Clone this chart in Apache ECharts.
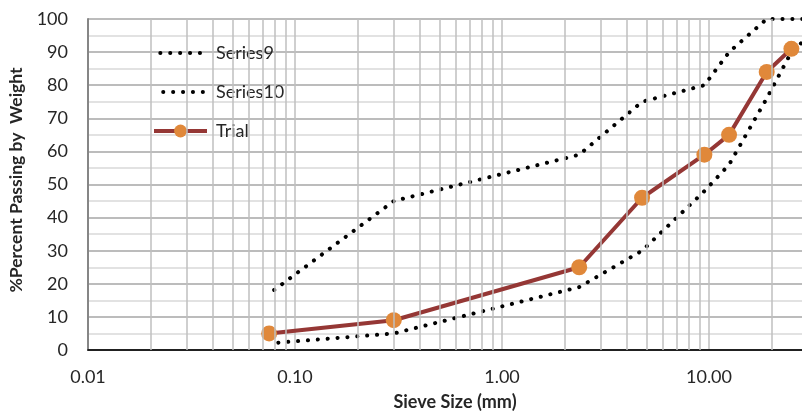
<!DOCTYPE html>
<html>
<head>
<meta charset="utf-8">
<script src="https://cdn.jsdelivr.net/npm/echarts@6/dist/echarts.min.js"></script>
<style>
  html, body { margin: 0; padding: 0; background: #fff; }
  #chart { width: 802px; height: 411px; }
</style>
</head>
<body>
<div id="chart"></div>
<script>
// Sieve sizes (mm) and percent passing
const sieveSizes = [0.075, 0.3, 2.36, 4.75, 9.5, 12.5, 19, 25];
const trialPassing = [5, 9, 25, 46, 59, 65, 84, 91];

const bandSizes = [0.075, 0.3, 2.36, 4.75, 9.5, 12.5, 19, 25, 37.5];
const series9Passing = [17, 45, 59, 75, 80, 90, 100, 100, 100];
const series10Passing = [2, 5, 19, 30, 48, 56, 76, 90, 100];

const yTicks = { min: 0, max: 100, step: 10 };
const xDecades = [0.01, 0.1, 1, 10];

const FONT = 'Lato';
const TEXT = '#262626';

function pairs(xs, ys) { return xs.map((x, i) => [x, ys[i]]); }

// minor log gridlines at 2..9 of every decade
const minorX = [];
xDecades.forEach(d => { for (let m = 2; m <= 9; m++) minorX.push({ xAxis: +(d * m).toPrecision(6) }); });

const DOT = { color: '#000', width: 4, type: [0.1, 9.8], cap: 'round' };
const dotStyle = (offset) => Object.assign({}, DOT, { dashOffset: offset });

// one legend block per entry, stacked down the upper left of the plot
const legendRows = [
  { name: 'Series9', top: 44, itemStyle: { opacity: 0 }, lineStyle: DOT },
  { name: 'Series10', top: 83, itemStyle: { opacity: 0 }, lineStyle: DOT },
  { name: 'Trial', top: 122, lineStyle: { color: '#953735', width: 4 } }
];

const chart = echarts.init(document.getElementById('chart'), null, { renderer: 'canvas' });
chart.setOption({
  animation: false,
  backgroundColor: '#fff',
  grid: { left: 88, top: 19, bottom: 61, right: -114, containLabel: false, outerBoundsMode: 'none' },
  xAxis: [{
    type: 'log', logBase: 10, min: 0.01, max: 100,
    axisLine: { show: true, onZero: false, lineStyle: { color: '#868686', width: 2 } },
    axisTick: { show: false },
    axisLabel: {
      margin: 18, color: TEXT, fontFamily: FONT, fontSize: 18,
      formatter: v => Number(v).toFixed(2)
    },
    splitLine: { show: true, lineStyle: { color: '#bfbfbf', width: 1.5 } }
  }, {
    type: 'log', logBase: 10, min: 0.01, max: 100, position: 'top',
    axisLine: { show: true, lineStyle: { color: '#000', width: 1.6 } },
    axisTick: { show: false }, axisLabel: { show: false }, splitLine: { show: false }
  }],
  yAxis: {
    type: 'value', min: yTicks.min, max: yTicks.max, interval: yTicks.step,
    axisLine: { show: true, lineStyle: { color: '#868686', width: 2 } },
    axisTick: { show: false },
    axisLabel: { margin: 20, color: TEXT, fontFamily: FONT, fontSize: 18 },
    splitLine: { show: true, lineStyle: { color: '#a6a6a6', width: 1.5 } },
    minorTick: { show: false, splitNumber: 2 },
    minorSplitLine: { show: true, lineStyle: { color: '#d9d9d9', width: 1.5 } }
  },
  legend: legendRows.map(r => ({
    orient: 'vertical', left: 152, top: r.top, padding: 0,
    itemWidth: 53, itemHeight: 16,
    data: [{ name: r.name, itemStyle: r.itemStyle, lineStyle: r.lineStyle }],
    textStyle: { fontFamily: FONT, fontSize: 18, color: TEXT, padding: [0, 0, 0, 4] }
  })),
  graphic: [{
    type: 'text', x: 455, y: 402,
    style: { text: 'Sieve Size (mm)', font: 'bold 18px ' + FONT, fill: TEXT, align: 'center', verticalAlign: 'middle' }
  }, {
    type: 'text', x: 16, y: 180, rotation: Math.PI / 2,
    style: { text: '%Percent Passing by  Weight', font: 'bold 17.5px ' + FONT, fill: TEXT, align: 'center', verticalAlign: 'middle' }
  }],
  series: [
    {
      type: 'line', data: [], silent: true, z: 0,
      markLine: {
        silent: true, symbol: 'none', label: { show: false },
        lineStyle: { color: '#bfbfbf', width: 1.5, type: 'solid' },
        data: minorX
      }
    },
    {
      name: 'Series9', type: 'line', z: 3,
      data: pairs(bandSizes, series9Passing),
      showSymbol: false, symbol: 'circle', symbolSize: 0,
      lineStyle: dotStyle(3.6), itemStyle: { color: '#000' }
    },
    {
      name: 'Series10', type: 'line', z: 3,
      data: pairs(bandSizes, series10Passing),
      showSymbol: false, symbol: 'circle', symbolSize: 0,
      lineStyle: dotStyle(0.7), itemStyle: { color: '#000' }
    },
    {
      name: 'Trial', type: 'line', z: 4,
      data: pairs(sieveSizes, trialPassing),
      symbol: 'circle', symbolSize: 16,
      lineStyle: { color: '#953735', width: 4 },
      itemStyle: { color: '#e0883a', borderWidth: 0 }
    }
  ]
});
</script>
</body>
</html>
